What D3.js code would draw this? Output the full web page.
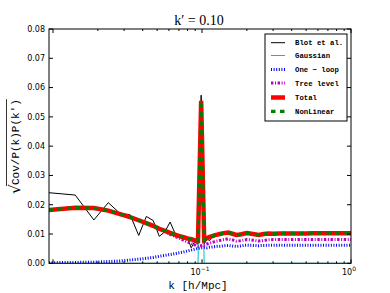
<!DOCTYPE html>
<html>
<head>
<meta charset="utf-8">
<script src="https://cdn.jsdelivr.net/npm/d3@7"></script>
<style>
  body { margin: 0; background: #fff; }
  svg text { fill: #000; }
</style>
</head>
<body>
<div class="chart"></div>
<script>
// k bins (h/Mpc)
const kValues = [0.0094, 0.0141, 0.0188, 0.0235, 0.0282, 0.0329, 0.0376, 0.0423, 0.047, 0.0517,
  0.0564, 0.0611, 0.0658, 0.0705, 0.0752, 0.0799, 0.0846, 0.0893, 0.094, 0.0987,
  0.1034, 0.1081, 0.1128, 0.1175, 0.1222, 0.1269, 0.1316, 0.14, 0.15, 0.16,
  0.17, 0.18, 0.19, 0.2, 0.22, 0.24, 0.26, 0.28, 0.3, 0.33,
  0.36, 0.4, 0.45, 0.5, 0.55, 0.6, 0.7, 0.8, 0.9, 1.0];

const blot = [0.0241, 0.0233, 0.0148, 0.0207, 0.0170, 0.0166, 0.0095, 0.0160, 0.0146, 0.0092,
  0.0108, 0.0141, 0.0103, 0.0097, 0.0093, 0.0088, 0.0053, 0.0074, 0.0065, 0.0574,
  0.0066, 0.0082, 0.0078, 0.0093, 0.0090, 0.0098, 0.0096, 0.0104, 0.0102, 0.0100,
  0.0095, 0.0099, 0.0100, 0.0101, 0.0099, 0.0096, 0.0100, 0.0101, 0.0100, 0.0102,
  0.0101, 0.0102, 0.0101, 0.0102, 0.0103, 0.0102, 0.0103, 0.0103, 0.0102, 0.0103];

const gaussian = [0, 0, 0, 0, 0, 0, 0, 0, 0, 0,
  0, 0, 0, 0, 0, 0, 0, 0, 0, 0.0549,
  0, 0, 0, 0, 0, 0, 0, 0, 0, 0,
  0, 0, 0, 0, 0, 0, 0, 0, 0, 0,
  0, 0, 0, 0, 0, 0, 0, 0, 0, 0];

const oneLoop = [0.0002, 0.0003, 0.0004, 0.0006, 0.0008, 0.0011, 0.0014, 0.0017, 0.0020, 0.0024,
  0.0027, 0.0030, 0.0033, 0.0036, 0.0039, 0.0042, 0.0045, 0.0048, 0.0051, 0.0053,
  0.0054, 0.0053, 0.0055, 0.0056, 0.0057, 0.0058, 0.0058, 0.0060, 0.0061, 0.0059,
  0.0058, 0.0059, 0.0061, 0.0062, 0.0061, 0.0060, 0.0061, 0.0062, 0.0062, 0.0062,
  0.0062, 0.0062, 0.0062, 0.0062, 0.0062, 0.0062, 0.0062, 0.0062, 0.0062, 0.0062];

const treeLevel = [0.0182, 0.0190, 0.0189, 0.0180, 0.0168, 0.0158, 0.0146, 0.0136, 0.0126, 0.0115,
  0.0108, 0.0099, 0.0092, 0.0085, 0.0079, 0.0073, 0.0068, 0.0063, 0.0058, 0.0060,
  0.0062, 0.0066, 0.0069, 0.0072, 0.0074, 0.0076, 0.0078, 0.0081, 0.0083, 0.0080,
  0.0076, 0.0077, 0.0079, 0.0081, 0.0079, 0.0076, 0.0078, 0.0080, 0.0081, 0.0081,
  0.0081, 0.0081, 0.0081, 0.0081, 0.0081, 0.0081, 0.0081, 0.0081, 0.0081, 0.0081];

const total = [0.0182, 0.0190, 0.0189, 0.0180, 0.0168, 0.0158, 0.0147, 0.0137, 0.0128, 0.0118,
  0.0111, 0.0104, 0.0098, 0.0093, 0.0089, 0.0085, 0.0082, 0.0079, 0.0077, 0.0555,
  0.0080, 0.0086, 0.0090, 0.0093, 0.0096, 0.0098, 0.0100, 0.0103, 0.0105, 0.0101,
  0.0097, 0.0098, 0.0101, 0.0103, 0.0100, 0.0097, 0.0100, 0.0102, 0.0101, 0.0102,
  0.0102, 0.0102, 0.0102, 0.0102, 0.0103, 0.0103, 0.0103, 0.0103, 0.0103, 0.0103];

// NonLinear sits on top of Total
const nonLinear = total.slice();

const yTicks = [0, 0.01, 0.02, 0.03, 0.04, 0.05, 0.06, 0.07, 0.08];
const xMajor = [0.01, 0.1, 1];
const xMinor = [0.02, 0.03, 0.04, 0.05, 0.06, 0.07, 0.08, 0.09, 0.2, 0.3, 0.4, 0.5, 0.6, 0.7, 0.8, 0.9];

//layout
const w = 390;
const h = 293;
const padLeft = 49, padRight = 351, padTop = 29, padBottom = 263.3;

const xScale = d3.scaleLog().domain([0.0094, 1]).range([padLeft, padRight]);
const yScale = d3.scaleLinear().domain([0, 0.08]).range([padBottom, padTop]);

const svg = d3.select(".chart").append("svg").attr("width", w).attr("height", h);

svg.append("defs").append("clipPath").attr("id", "clip")
  .append("rect").attr("x", padLeft).attr("y", padTop)
  .attr("width", padRight - padLeft).attr("height", padBottom - padTop);

const line = d3.line().x((d) => xScale(d[0])).y((d) => yScale(d[1]));
const pts = (vals) => kValues.map((k, i) => [k, vals[i]]);

const series = [
  { name: "Blot et al.", vals: blot, color: "#000", width: 1, dash: null },
  { name: "Gaussian", vals: gaussian, color: "#00bfbf", width: 1, dash: null },
  { name: "One \u2212 loop", vals: oneLoop, color: "#0000ff", width: 3, dash: "1,1.6" },
  { name: "Tree level", vals: treeLevel, color: "#bf00bf", width: 3, dash: "2.4,1.6,1,1.6" },
  { name: "Total", vals: total, color: "#ff0000", width: 4.5, dash: null },
  { name: "NonLinear", vals: nonLinear, color: "#008000", width: 3.2, dash: "4.5,4.5" }
];

const plot = svg.append("g").attr("clip-path", "url(#clip)");
series.forEach((s) => {
  plot.append("path")
    .attr("d", line(pts(s.vals)))
    .attr("fill", "none")
    .attr("stroke", s.color)
    .attr("stroke-width", s.width)
    .attr("stroke-dasharray", s.dash);
});

// frame
svg.append("rect").attr("x", padLeft).attr("y", padTop)
  .attr("width", padRight - padLeft).attr("height", padBottom - padTop)
  .attr("fill", "none").attr("stroke", "#000").attr("stroke-width", 1);

// ticks (inside, all four sides)
const ticks = svg.append("g").attr("stroke", "#000").attr("stroke-width", 1);
yTicks.forEach((t) => {
  const y = yScale(t);
  ticks.append("line").attr("x1", padLeft).attr("x2", padLeft + 4).attr("y1", y).attr("y2", y);
  ticks.append("line").attr("x1", padRight).attr("x2", padRight - 4).attr("y1", y).attr("y2", y);
  svg.append("text").attr("x", 45).attr("y", y).attr("dy", "0.35em")
    .attr("text-anchor", "end").style("font", "8px 'DejaVu Sans'").text(t.toFixed(2));
});
xMajor.concat(xMinor).forEach((t) => {
  const x = xScale(t);
  const len = xMajor.includes(t) ? 4 : 2;
  ticks.append("line").attr("x1", x).attr("x2", x).attr("y1", padBottom).attr("y2", padBottom - len);
  ticks.append("line").attr("x1", x).attr("x2", x).attr("y1", padTop).attr("y2", padTop + len);
});
[[0.1, "\u22121"], [1, "0"]].forEach(([t, e]) => {
  const lab = svg.append("text").attr("x", xScale(t) - 2).attr("y", 275)
    .attr("text-anchor", "middle").style("font", "8px 'DejaVu Sans'");
  lab.append("tspan").text("10");
  lab.append("tspan").attr("dy", -4).style("font-size", "6px").text(e);
});

// title and axis labels
svg.append("text").attr("x", 199).attr("y", 25).attr("text-anchor", "middle")
  .style("font", "14px 'Liberation Serif'").text("k\u2032 = 0.10");
svg.append("text").attr("x", 198).attr("y", 289).attr("text-anchor", "middle")
  .style("font", "11px 'Liberation Mono'").text("k [h/Mpc]");

const yl = svg.append("g").attr("transform", "translate(19,146) rotate(-90)");
yl.append("text").attr("x", -48).attr("y", 1).attr("text-anchor", "start")
  .style("font", "15px 'DejaVu Serif'").text("\u221a");
const inner = yl.append("text").attr("x", -39).attr("y", 0).attr("text-anchor", "start")
  .style("font", "11px 'Liberation Mono'").text("Cov/P(k)P(k\u2032)");
const innerLen = inner.node().getComputedTextLength();
yl.append("line").attr("x1", -40).attr("x2", -39 + innerLen).attr("y1", -12.5).attr("y2", -12.5)
  .attr("stroke", "#000").attr("stroke-width", 0.8);

// legend
const legend = svg.append("g").attr("id", "legend");
legend.append("rect").attr("x", 265).attr("y", 34).attr("width", 82).attr("height", 87)
  .attr("fill", "#fff").attr("stroke", "#000").attr("stroke-width", 1);
const rowY = [42.7, 55.5, 69.5, 83, 97.5, 111.3];
series.forEach((s, i) => {
  legend.append("line").attr("x1", 271).attr("x2", 285).attr("y1", rowY[i]).attr("y2", rowY[i])
    .attr("stroke", s.color).attr("stroke-width", s.width)
    .attr("stroke-dasharray", s.dash);
  legend.append("text").attr("x", 295).attr("y", rowY[i]).attr("dy", "0.35em")
    .style("font", "7.3px 'Liberation Mono'").style("font-weight", "bold").text(s.name);
});
</script>
</body>
</html>
